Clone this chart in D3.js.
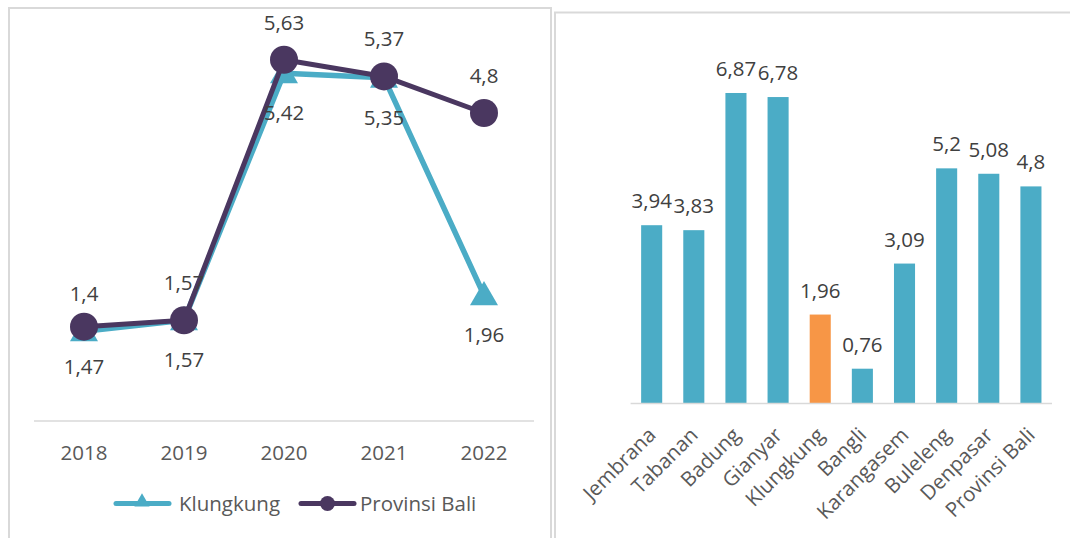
<!DOCTYPE html>
<html>
<head>
<meta charset="utf-8">
<script src="https://cdn.jsdelivr.net/npm/d3@7"></script>
<style>
  html, body { margin: 0; padding: 0; background: #fff; }
  svg { display: block; font-family: "Open Sans", sans-serif; }
</style>
</head>
<body>
<svg id="chart" width="1070" height="538"></svg>
<script>
// Yearly series (left panel)
const years = ["2018", "2019", "2020", "2021", "2022"];
const klungkung = [1.4, 1.57, 5.42, 5.35, 1.96];
const provinsiBali = [1.47, 1.57, 5.63, 5.37, 4.8];
// label side for each point: "above" or "below"
const klungkungLabelSide = ["above", "above", "below", "below", "below"];
const baliLabelSide = ["below", "below", "above", "above", "above"];

// Regency comparison (right panel)
const regencies = ["Jembrana", "Tabanan", "Badung", "Gianyar", "Klungkung", "Bangli",
                   "Karangasem", "Buleleng", "Denpasar", "Provinsi Bali"];
const regencyValues = [3.94, 3.83, 6.87, 6.78, 1.96, 0.76, 3.09, 5.2, 5.08, 4.8];
const highlighted = "Klungkung";

const TEAL = "#4bacc6", PURPLE = "#4a3760", ORANGE = "#f79646";
const LABEL = "#404040", AXIS_TEXT = "#595959", GRID = "#d9d9d9";
const FS = 20.5;
const fmt = v => String(v).replace(".", ",");

const svg = d3.select("#chart");

// panel frames
svg.append("rect").attr("x", 9).attr("y", 8).attr("width", 542).attr("height", 560)
  .attr("fill", "none").attr("stroke", GRID).attr("stroke-width", 2);
svg.append("rect").attr("x", 555).attr("y", 12.5).attr("width", 540).attr("height", 560)
  .attr("fill", "none").attr("stroke", GRID).attr("stroke-width", 2);

// ---------- Left: line chart ----------
const left = svg.append("g");
const x1 = d3.scaleBand().domain(years).range([34, 534]);
const y1 = d3.scaleLinear().domain([0, 6]).range([421, 36]);
const cx1 = d => x1(d) + x1.bandwidth() / 2;

left.append("line").attr("x1", 34).attr("x2", 534).attr("y1", 421).attr("y2", 421)
  .attr("stroke", GRID).attr("stroke-width", 1.5);

left.selectAll("text.year").data(years).join("text")
  .attr("class", "year").attr("x", cx1).attr("y", 460)
  .attr("text-anchor", "middle").attr("font-size", FS).attr("fill", AXIS_TEXT)
  .text(d => d);

const line = d3.line().x((d, i) => cx1(years[i])).y(d => y1(d));

left.append("path").datum(klungkung).attr("d", line)
  .attr("fill", "none").attr("stroke", TEAL).attr("stroke-width", 5.5).attr("stroke-linejoin", "round");
left.selectAll("path.tri").data(klungkung).join("path").attr("class", "tri")
  .attr("d", d3.symbol(d3.symbolTriangle, 340))
  .attr("transform", (d, i) => `translate(${cx1(years[i])},${y1(d) + 2})`)
  .attr("fill", TEAL);

left.append("path").datum(provinsiBali).attr("d", line)
  .attr("fill", "none").attr("stroke", PURPLE).attr("stroke-width", 5).attr("stroke-linejoin", "round");
left.selectAll("circle.bali").data(provinsiBali).join("circle").attr("class", "bali")
  .attr("cx", (d, i) => cx1(years[i])).attr("cy", d => y1(d)).attr("r", 14)
  .attr("fill", PURPLE);

function pointLabels(values, sides, cls) {
  left.selectAll("text." + cls).data(values).join("text").attr("class", cls)
    .attr("x", (d, i) => cx1(years[i]))
    .attr("y", (d, i) => y1(d) + (sides[i] === "above" ? -30 : 47))
    .attr("text-anchor", "middle").attr("font-size", FS).attr("fill", LABEL)
    .text(d => fmt(d));
}
pointLabels(klungkung, klungkungLabelSide, "lblK");
pointLabels(provinsiBali, baliLabelSide, "lblB");

// legend
const lg = left.append("g");
lg.append("line").attr("x1", 116).attr("x2", 169).attr("y1", 503.5).attr("y2", 503.5)
  .attr("stroke", TEAL).attr("stroke-width", 5).attr("stroke-linecap", "round");
lg.append("path").attr("d", d3.symbol(d3.symbolTriangle, 100))
  .attr("transform", "translate(142,502)").attr("fill", TEAL);
lg.append("text").attr("x", 179).attr("y", 511).attr("font-size", FS).attr("fill", AXIS_TEXT).text("Klungkung");
lg.append("line").attr("x1", 301).attr("x2", 354).attr("y1", 503.5).attr("y2", 503.5)
  .attr("stroke", PURPLE).attr("stroke-width", 5).attr("stroke-linecap", "round");
lg.append("circle").attr("cx", 327.5).attr("cy", 503.5).attr("r", 7.5).attr("fill", PURPLE);
lg.append("text").attr("x", 360).attr("y", 511).attr("font-size", FS).attr("fill", AXIS_TEXT).text("Provinsi Bali");

// ---------- Right: bar chart ----------
const right = svg.append("g");
const x2 = d3.scaleBand().domain(regencies).range([630.6, 1052]).paddingInner(0.5).paddingOuter(0.25);
const y2 = d3.scaleLinear().domain([0, 8]).range([403, 42]);

right.selectAll("rect.bar").data(regencies).join("rect").attr("class", "bar")
  .attr("x", d => x2(d)).attr("width", x2.bandwidth())
  .attr("y", (d, i) => y2(regencyValues[i]))
  .attr("height", (d, i) => y2(0) - y2(regencyValues[i]))
  .attr("fill", d => d === highlighted ? ORANGE : TEAL);

right.append("line").attr("x1", 630.6).attr("x2", 1052).attr("y1", 403.5).attr("y2", 403.5)
  .attr("stroke", GRID).attr("stroke-width", 1.5);

right.selectAll("text.val").data(regencies).join("text").attr("class", "val")
  .attr("x", d => x2(d) + x2.bandwidth() / 2)
  .attr("y", (d, i) => y2(regencyValues[i]) - 17)
  .attr("text-anchor", "middle").attr("font-size", FS).attr("fill", LABEL)
  .text((d, i) => fmt(regencyValues[i]));

right.selectAll("text.cat").data(regencies).join("text").attr("class", "cat")
  .attr("transform", d => `translate(${x2(d) + x2.bandwidth() / 2 - 5},426) rotate(-45)`)
  .attr("dy", "0.71em")
  .attr("text-anchor", "end").attr("font-size", FS).attr("fill", AXIS_TEXT)
  .text(d => d);
</script>
</body>
</html>
